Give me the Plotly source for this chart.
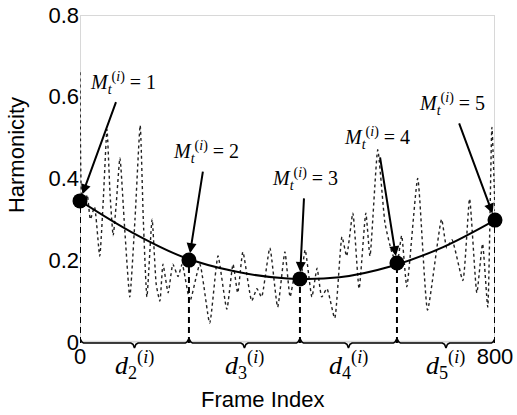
import plotly.graph_objects as go

# Dotted harmonicity signal (frame index, value)
frame_idx = [0, 3, 8, 14, 20, 28, 38, 45, 52, 58, 64, 70, 77, 86, 96, 106, 116, 122, 129, 139,
             147, 154, 160, 170, 179, 189, 197, 212, 231, 250, 266, 283, 295, 304, 314, 331, 341,
             350, 366, 381, 395, 405, 414, 424, 434, 447, 457, 466, 476, 491, 505, 514, 526, 538,
             551, 559, 574, 588, 601, 611, 620, 630, 651, 670, 697, 707, 717, 738, 751, 765, 776,
             786, 794, 800]
harmonicity = [0.66, 0.36, 0.33, 0.36, 0.30, 0.33, 0.21, 0.35, 0.52, 0.36, 0.26, 0.34, 0.45, 0.28,
               0.11, 0.30, 0.53, 0.30, 0.11, 0.30, 0.14, 0.10, 0.19, 0.12, 0.19, 0.16, 0.19, 0.10,
               0.19, 0.046, 0.21, 0.08, 0.19, 0.12, 0.22, 0.10, 0.13, 0.11, 0.23, 0.085, 0.22, 0.11,
               0.16, 0.15, 0.225, 0.11, 0.18, 0.11, 0.13, 0.058, 0.257, 0.21, 0.315, 0.13, 0.315,
               0.21, 0.47, 0.29, 0.22, 0.19, 0.26, 0.135, 0.40, 0.078, 0.30, 0.23, 0.25, 0.15, 0.35,
               0.12, 0.24, 0.085, 0.525, 0.32]

# Fitted smooth curve (read at regular frames)
curve_x = [0, 100, 200, 300, 400, 500, 600, 700, 800]
curve_y = [0.345, 0.268, 0.207, 0.172, 0.155, 0.158, 0.185, 0.232, 0.298]

# Selected points M_t^(i)
marker_x = [0, 210, 424, 611, 800]
marker_y = [0.345, 0.200, 0.154, 0.193, 0.298]
marker_labels = ["1", "2", "3", "4", "5"]
# text offsets (px) of each label relative to its arrow head
label_dx = [43, 17, 5, -20, -43]
label_dy = [-118, -108, -100, -125, -116]

y_ticks = [0, 0.2, 0.4, 0.6, 0.8]
y_ticktext = ["0", "0.2", "0.4", "0.6", "0.8"]
x_ticks = [0, 800]
x_ticktext = ["0", "800"]

SANS = "Liberation Sans, Arial, sans-serif"
SERIF = "Liberation Serif, Times New Roman, serif"

fig = go.Figure()

# frame
fig.add_shape(type="rect", x0=0, x1=800, y0=0, y1=0.8, xref="x", yref="y",
              line=dict(color="#d8d8d8", width=2), layer="below")

fig.add_trace(go.Scatter(x=frame_idx, y=harmonicity, mode="lines",
                         line=dict(color="#222222", width=1.4, dash="dot", shape="spline", smoothing=0.5),
                         hoverinfo="skip", showlegend=False))

fig.add_trace(go.Scatter(x=curve_x, y=curve_y, mode="lines",
                         line=dict(color="black", width=2, shape="spline"),
                         hoverinfo="skip", showlegend=False))

# dashed verticals
for mx, my in zip(marker_x, marker_y):
    fig.add_trace(go.Scatter(x=[mx, mx], y=[-0.003, my], mode="lines",
                             line=dict(color="black", width=2, dash="6px,4px"),
                             hoverinfo="skip", showlegend=False, cliponaxis=False))

# braces between consecutive markers
e = 7
for k in range(len(marker_x) - 1):
    a, b = marker_x[k], marker_x[k + 1]
    m = (a + b) / 2
    bx = [a, a + e * 0.5, a + e, m - e, m - e * 0.4, m, m + e * 0.4, m + e, b - e, b - e * 0.5, b]
    by = [0.008, 0.0, -0.003, -0.003, -0.006, -0.015, -0.006, -0.003, -0.003, 0.0, 0.008]
    fig.add_trace(go.Scatter(x=bx, y=by, mode="lines",
                             line=dict(color="black", width=1.6),
                             hoverinfo="skip", showlegend=False))
    fig.add_annotation(x=m, y=-0.02, xref="x", yref="y", yanchor="top", yshift=5, showarrow=False,
                       text="<i>d</i><sub>%d</sub><sup>(<i>i</i>)</sup>" % (k + 2),
                       font=dict(family=SERIF, size=26, color="black"))

fig.add_trace(go.Scatter(x=marker_x, y=marker_y, mode="markers",
                         marker=dict(color="black", size=15),
                         cliponaxis=False, hoverinfo="skip", showlegend=False))

for mx, my, lab, dx, dy in zip(marker_x, marker_y, marker_labels, label_dx, label_dy):
    fig.add_annotation(x=mx, y=my, xref="x", yref="y", ax=dx, ay=dy,
                       text="<i>M</i><sub><i>t</i></sub><sup>(<i>i</i>)</sup> = " + lab,
                       font=dict(family=SERIF, size=20, color="black"),
                       showarrow=True, arrowhead=2, arrowsize=1, arrowwidth=2,
                       arrowcolor="black", standoff=7, startstandoff=4)

fig.add_annotation(x=-0.154, y=0.582, xref="paper", yref="paper", showarrow=False,
                   xanchor="center", yanchor="middle",
                   text="Harmonicity", textangle=-90,
                   font=dict(family=SANS, size=22, color="black"))
fig.add_annotation(x=0.441, y=-0.149, xref="paper", yref="paper", showarrow=False,
                   xanchor="center", yanchor="middle",
                   text="Frame Index",
                   font=dict(family=SANS, size=22, color="black"))

fig.update_layout(
    width=517, height=415,
    margin=dict(l=80, r=22, t=15, b=65, autoexpand=False),
    paper_bgcolor="white", plot_bgcolor="white",
    xaxis=dict(range=[0, 800], tickvals=x_ticks, ticktext=x_ticktext, showgrid=False,
               zeroline=False, showline=False, ticks="", ticklabelstandoff=-9, automargin=False,
               ticklabeloverflow="allow",
               tickfont=dict(family=SANS, size=22, color="black")),
    yaxis=dict(range=[-0.02, 0.8], tickvals=y_ticks, ticktext=y_ticktext, showgrid=False,
               zeroline=False, showline=False, ticks="", automargin=False,
               ticklabeloverflow="allow",
               tickfont=dict(family=SANS, size=22, color="black")),
)

# remove the default 8px page margin so the figure sits at the window's corner
fig.write_html("out.html", config={"displayModeBar": False},
               post_script="document.body.style.margin='0';document.body.style.overflow='hidden';")
